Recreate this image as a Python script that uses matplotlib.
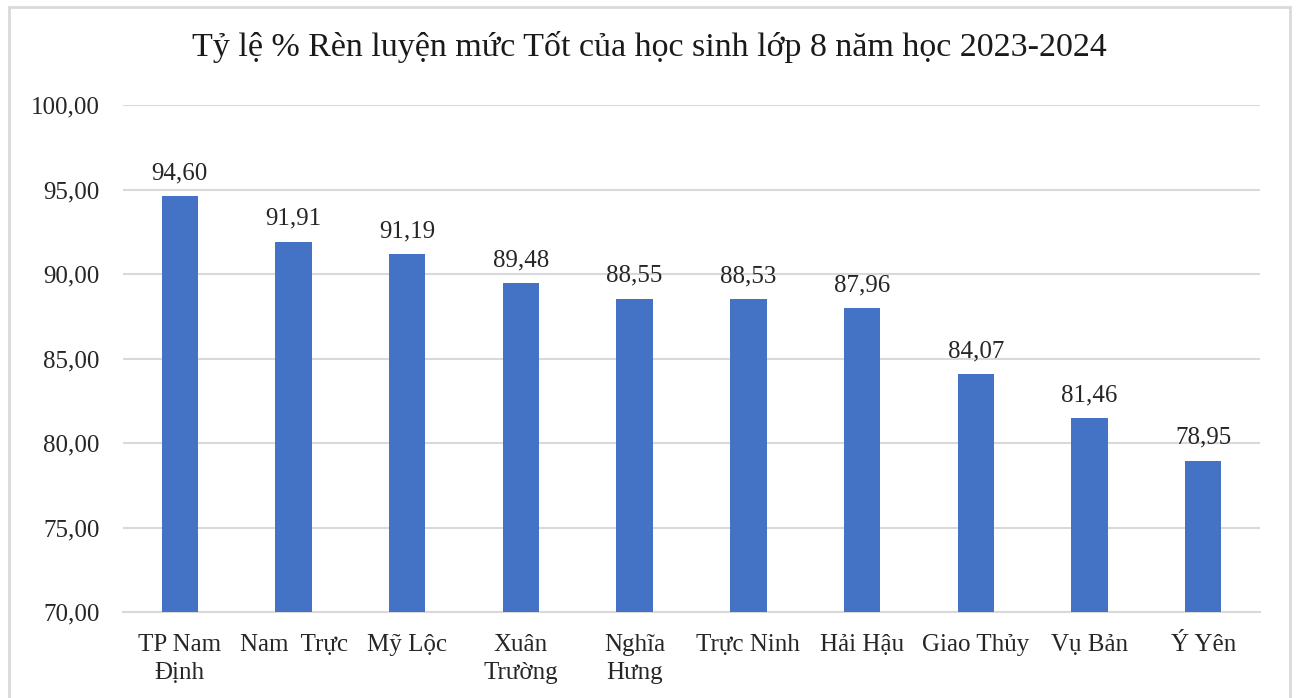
import matplotlib
matplotlib.use("Agg")
import matplotlib.pyplot as plt
from matplotlib.patches import Rectangle

# data
districts = ["TP Nam\nĐịnh", "Nam  Trực", "Mỹ Lộc", "Xuân\nTrường", "Nghĩa\nHưng",
             "Trực Ninh", "Hải Hậu", "Giao Thủy", "Vụ Bản", "Ý Yên"]
values = [94.60, 91.91, 91.19, 89.48, 88.55, 88.53, 87.96, 84.07, 81.46, 78.95]
yticks = [70, 75, 80, 85, 90, 95, 100]
title = "Tỷ lệ % Rèn luyện mức Tốt của học sinh lớp 8 năm học 2023-2024"

plt.rcParams['font.family'] = ['Liberation Serif', 'DejaVu Serif']

fig = plt.figure(figsize=(12.98, 6.98), dpi=100)
# outer chart border like excel
fig.patches.append(Rectangle((9/1298, -0.01), 1281/1298, 1 - 7/698 + 0.01,
                             transform=fig.transFigure, fill=False,
                             edgecolor="#d9d9d9", linewidth=2))

ax = fig.add_axes([123/1298, 1 - 612/698, (1260 - 123)/1298, (612 - 105)/698])
x = range(len(districts))
ax.bar(x, values, width=0.32, color="#4472c4", zorder=3)

for i, v in enumerate(values):
    ax.text(i, v + 0.7, f"{v:.2f}".replace(".", ","), ha="center", va="bottom",
            fontsize=18, color="#262626")

ax.set_ylim(70, 100)
ax.set_xlim(-0.5, len(districts) - 0.5)
ax.set_yticks(yticks)
ax.set_yticklabels([f"{t:.2f}".replace(".", ",") for t in yticks], fontsize=18, color="#262626")
ax.set_xticks(list(x))
ax.set_xticklabels(districts, fontsize=18, color="#262626", linespacing=1.35)
ax.tick_params(axis="x", length=0, pad=16)
ax.tick_params(axis="y", length=0, pad=17)
ax.grid(axis="y", color="#d9d9d9", linewidth=1.5, zorder=0)
for s in ["top", "right", "left"]:
    ax.spines[s].set_visible(False)
ax.spines["bottom"].set_color("#d9d9d9")
ax.spines["bottom"].set_linewidth(1.5)

fig.text(0.5, 1 - 47/698, title, ha="center", va="center", fontsize=24.5, color="#1a1a1a")

fig.savefig("out.png", dpi=100)
